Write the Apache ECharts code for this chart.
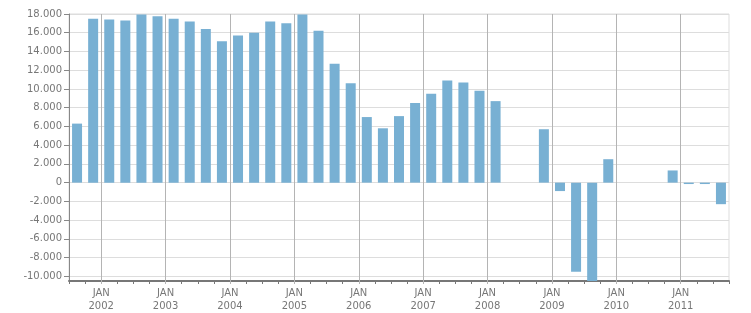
<!DOCTYPE html>
<html><head><meta charset="utf-8">
<script src="https://cdn.jsdelivr.net/npm/echarts@6/dist/echarts.min.js"></script>
<style>html,body{margin:0;padding:0;background:#fff}#c{width:751px;height:313px}</style>
</head><body><div id="c"></div>
<script>
const quarters = [
  '2001-Q3','2001-Q4',
  '2002-Q1','2002-Q2','2002-Q3','2002-Q4',
  '2003-Q1','2003-Q2','2003-Q3','2003-Q4',
  '2004-Q1','2004-Q2','2004-Q3','2004-Q4',
  '2005-Q1','2005-Q2','2005-Q3','2005-Q4',
  '2006-Q1','2006-Q2','2006-Q3','2006-Q4',
  '2007-Q1','2007-Q2','2007-Q3','2007-Q4',
  '2008-Q1','2008-Q2','2008-Q3','2008-Q4',
  '2009-Q1','2009-Q2','2009-Q3','2009-Q4',
  '2010-Q1','2010-Q2','2010-Q3','2010-Q4',
  '2011-Q1','2011-Q2','2011-Q3'
];
const values = [
  6300, 17500,
  17400, 17300, 17950, 17750,
  17500, 17200, 16400, 15100,
  15700, 16000, 17200, 17000,
  17950, 16200, 12700, 10600,
  7000, 5800, 7100, 8500,
  9500, 10900, 10700, 9800,
  8700, null, null, 5700,
  -900, -9500, -11000, 2500,
  null, null, null, 1300,
  -150, -150, -2300
];
const yTicks = [-10000,-8000,-6000,-4000,-2000,0,2000,4000,6000,8000,10000,12000,14000,16000,18000];
const yMin = -10500, yMax = 18000;

const janIdx = quarters.map((q, i) => q.endsWith('Q1') ? i : -1).filter(i => i >= 0);
const fmt = v => (v < 0 ? '-' : '') + String(Math.abs(v)).replace(/\B(?=(\d{3})+(?!\d))/g, '.');
const font = { fontFamily: '"DejaVu Sans", Verdana, sans-serif', fontSize: 10, color: '#777' };
const gridPos = { left: 69, right: 22, top: 14, bottom: 32 };

const chart = echarts.init(document.getElementById('c'), null, { renderer: 'canvas' });
chart.setOption({
  animation: false,
  grid: [
    Object.assign({ show: true, borderColor: '#dddddd', borderWidth: 1 }, gridPos),
    Object.assign({ show: false }, gridPos)
  ],
  xAxis: [
    {
      type: 'category', gridIndex: 0, data: quarters, boundaryGap: true,
      axisLine: { onZero: false, lineStyle: { color: '#777', width: 2 } },
      axisTick: { show: true, interval: 0, length: 3, lineStyle: { color: '#777' } },
      axisLabel: { show: false },
      splitLine: { show: false }
    },
    {
      type: 'value', gridIndex: 1, min: 0, max: quarters.length,
      axisLine: { show: false, onZero: false },
      axisTick: { show: true, customValues: janIdx, length: 6, lineStyle: { color: '#b4b4b4' } },
      axisLabel: Object.assign({
        customValues: janIdx, margin: 9, lineHeight: 13,
        formatter: v => 'JAN\n' + quarters[v].slice(0, 4)
      }, font),
      splitLine: { show: true, lineStyle: { color: '#b4b4b4', width: 1 } }
    }
  ],
  yAxis: [
    {
      type: 'value', gridIndex: 0, min: yMin, max: yMax,
      axisLine: { show: true, onZero: false, lineStyle: { color: '#888' } },
      axisTick: { show: true, customValues: yTicks, length: 5, lineStyle: { color: '#888' } },
      axisLabel: Object.assign({ customValues: yTicks, margin: 7, formatter: fmt }, font),
      splitLine: { show: true, lineStyle: { color: '#dddddd' } }
    },
    {
      type: 'value', gridIndex: 1, min: yMin, max: yMax, show: false
    }
  ],
  series: [{
    type: 'bar', xAxisIndex: 0, yAxisIndex: 0,
    data: values, barWidth: 10,
    itemStyle: { color: '#78b0d3' },
    clip: true
  }]
});
</script>
</body></html>
